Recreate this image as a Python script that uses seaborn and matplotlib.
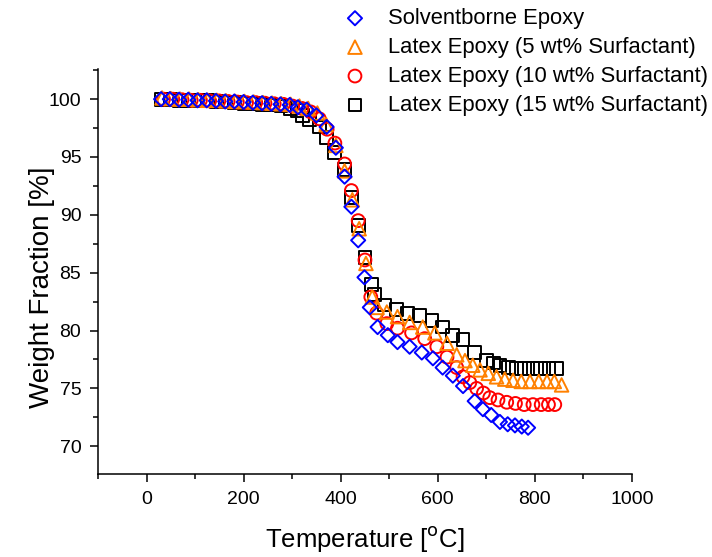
import numpy as np
import pandas as pd
import matplotlib
matplotlib.use("Agg")
import matplotlib.pyplot as plt
import seaborn as sns
from matplotlib.ticker import MultipleLocator

# Solventborne epoxy (blue diamonds)
solvent_T = [30, 48, 67, 86, 105, 124, 143, 162, 181, 200, 219, 238, 257, 276, 295, 312, 330, 350, 371, 390,
             408, 422, 436, 449, 460, 476, 497, 517, 542, 567, 590, 610, 631, 652, 676, 693, 710, 728, 744, 759,
             773, 786]
solvent_W = [100.0, 100.0, 99.95, 99.95, 99.9, 99.9, 99.85, 99.8, 99.8, 99.75, 99.7, 99.65, 99.6, 99.55, 99.5,
             99.3, 99.1, 98.6, 97.6, 95.8, 93.3, 90.7, 87.8, 84.6, 82.0, 80.3, 79.6, 79.0, 78.6, 78.1, 77.6, 76.8,
             76.1, 75.2, 73.9, 73.2, 72.7, 72.1, 71.9, 71.8, 71.7, 71.6]

# Latex epoxy, 5 wt% surfactant (orange triangles)
latex5_T = [32, 50, 69, 88, 107, 126, 145, 164, 183, 202, 221, 240, 259, 278, 297, 315, 333, 352, 370, 390,
            408, 424, 438, 452, 465, 475, 495, 517, 542, 569, 594, 619, 639, 656, 672, 687, 704, 721, 738, 755,
            772, 790, 808, 825, 840, 855]
latex5_W = [100.1, 100.05, 100.0, 100.0, 99.95, 99.9, 99.9, 99.85, 99.8, 99.8, 99.75, 99.7, 99.65, 99.6, 99.55,
            99.4, 99.2, 98.8, 97.8, 96.0, 93.8, 91.3, 88.8, 85.8, 82.9, 82.0, 81.6, 81.2, 80.7, 80.3, 79.8, 78.9,
            77.9, 77.4, 77.0, 76.6, 76.3, 76.0, 75.8, 75.7, 75.6, 75.6, 75.6, 75.6, 75.6, 75.3]

# Latex epoxy, 10 wt% surfactant (red circles)
latex10_T = [35, 54, 73, 92, 111, 130, 149, 168, 187, 206, 225, 244, 263, 282, 301, 320, 338, 356, 372, 388,
             408, 422, 436, 450, 462, 474, 495, 517, 546, 573, 598, 619, 639, 652, 666, 680, 694, 707, 724, 742,
             760, 778, 796, 813, 828, 841]
latex10_W = [100.0, 100.0, 99.95, 99.9, 99.9, 99.85, 99.85, 99.8, 99.75, 99.7, 99.7, 99.65, 99.6, 99.55, 99.4,
             99.2, 98.9, 98.3, 97.4, 96.2, 94.4, 92.1, 89.5, 86.1, 82.9, 81.5, 80.6, 80.2, 79.8, 79.3, 78.6, 77.7,
             76.8, 76.0, 75.5, 75.0, 74.6, 74.2, 74.0, 73.8, 73.7, 73.6, 73.6, 73.6, 73.6, 73.6]

# Latex epoxy, 15 wt% surfactant (black squares)
latex15_T = [30, 49, 68, 87, 106, 125, 144, 163, 182, 201, 220, 239, 258, 277, 296, 310, 322, 336, 356, 371,
             388, 408, 422, 436, 450, 464, 470, 491, 515, 538, 563, 588, 610, 631, 652, 676, 700, 715, 728, 745,
             762, 779, 796, 812, 829, 845]
latex15_W = [100.0, 99.95, 99.9, 99.9, 99.85, 99.85, 99.8, 99.75, 99.7, 99.65, 99.6, 99.55, 99.5, 99.4, 99.2,
             99.0, 98.6, 98.2, 97.6, 96.7, 95.4, 93.9, 91.5, 89.1, 86.3, 84.0, 83.1, 82.2, 81.8, 81.5, 81.3, 80.9,
             80.3, 79.6, 79.2, 78.1, 77.4, 77.2, 77.0, 76.8, 76.7, 76.7, 76.7, 76.7, 76.7, 76.7]

labels = ["Solventborne Epoxy", "Latex Epoxy (5 wt% Surfactant)",
          "Latex Epoxy (10 wt% Surfactant)", "Latex Epoxy (15 wt% Surfactant)"]

sns.set_style("ticks")
plt.rcParams["font.family"] = ["Liberation Sans", "DejaVu Sans"]
for k in ["text.color", "axes.labelcolor", "xtick.color", "ytick.color", "axes.edgecolor"]:
    plt.rcParams[k] = "black"

fig = plt.figure(figsize=(7.12, 5.57), dpi=100)
ax = fig.add_axes([0.1376, 0.149, 0.7500, 0.727])

# drawn back to front: squares, circles, triangles, diamonds
series = [
    (latex15_T, latex15_W, "s", 85, "black", labels[3]),
    (latex10_T, latex10_W, "o", 85, "#ff0000", labels[2]),
    (latex5_T, latex5_W, "^", 95, "#ff8000", labels[1]),
    (solvent_T, solvent_W, "D", 52, "#0000ff", labels[0]),
]
for T, W, m, s, c, lab in series:
    df = pd.DataFrame({"T": T, "W": W})
    sns.scatterplot(data=df, x="T", y="W", marker=m, s=s, facecolor="none",
                    edgecolor=c, linewidth=1.4, label=lab, ax=ax)

ax.set_xlim(-100, 1000)
ax.set_ylim(67.6, 102.6)
ax.xaxis.set_major_locator(MultipleLocator(200))
ax.xaxis.set_minor_locator(MultipleLocator(100))
ax.yaxis.set_major_locator(MultipleLocator(5))
ax.yaxis.set_minor_locator(MultipleLocator(2.5))
ax.tick_params(which="major", direction="out", length=6, width=1.1, labelsize=14, pad=6)
ax.tick_params(which="minor", direction="out", length=3.5, width=1.1)
sns.despine(ax=ax)
for sp in ["left", "bottom"]:
    ax.spines[sp].set_linewidth(1.1)

ax.set_xlabel("Temperature [$^{\\mathrm{o}}$C]", fontsize=18.5, labelpad=12)
ax.set_ylabel("Weight Fraction [%]", fontsize=20)
ax.yaxis.set_label_coords(-0.081, 0.46)

handles, labs = ax.get_legend_handles_labels()
order = [labs.index(l) for l in labels]
ax.legend([handles[i] for i in order], [labs[i] for i in order],
          loc="upper left", bbox_to_anchor=(344 / 712, 1 - 8 / 557),
          bbox_transform=fig.transFigure, frameon=False, fontsize=15.8,
          handlelength=1.0, handletextpad=1.0, labelspacing=0.36, borderpad=0,
          borderaxespad=0)

fig.savefig("out.png", dpi=100)
